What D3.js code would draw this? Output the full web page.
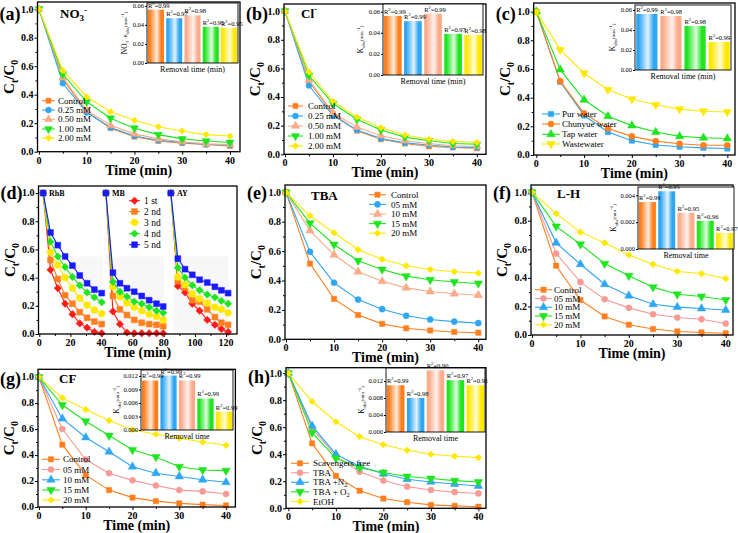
<!DOCTYPE html>
<html>
<head>
<meta charset="utf-8">
<script src="https://cdn.jsdelivr.net/npm/d3@7"></script>
<style>
  body { margin: 0; background: #fff; }
  svg { display: block; font-family: "Liberation Serif", "Times New Roman", serif; }
</style>
</head>
<body>
<svg id="fig" width="738" height="533"></svg>
<script>
// ---------- data ----------
const times = [0, 5, 10, 15, 20, 25, 30, 35, 40];
const yTicks = [0, 0.2, 0.4, 0.6, 0.8, 1.0];

// (a) NO3-
const aNames = ["Control", "0.25 mM", "0.50 mM", "1.00 mM", "2.00 mM"];
const aVals = [
  [1, 0.51, 0.28, 0.165, 0.105, 0.075, 0.06, 0.05, 0.04],
  [1, 0.48, 0.275, 0.17, 0.11, 0.08, 0.065, 0.05, 0.045],
  [1, 0.52, 0.29, 0.185, 0.125, 0.09, 0.07, 0.055, 0.05],
  [1, 0.545, 0.35, 0.235, 0.165, 0.12, 0.09, 0.075, 0.065],
  [1, 0.57, 0.385, 0.28, 0.22, 0.175, 0.145, 0.12, 0.11]
];
const aK = [0.056, 0.047, 0.050, 0.038, 0.037];
const aR2 = ["0.99", "0.97", "0.98", "0.95", "0.95"];

// (b) Cl-
const bNames = ["Control", "0.25 mM", "0.50 mM", "1.00 mM", "2.00 mM"];
const bVals = [
  [1, 0.51, 0.28, 0.165, 0.105, 0.075, 0.055, 0.048, 0.042],
  [1, 0.48, 0.27, 0.17, 0.11, 0.08, 0.065, 0.05, 0.048],
  [1, 0.52, 0.29, 0.19, 0.13, 0.095, 0.075, 0.06, 0.055],
  [1, 0.55, 0.355, 0.245, 0.17, 0.12, 0.095, 0.075, 0.07],
  [1, 0.575, 0.37, 0.26, 0.185, 0.135, 0.105, 0.09, 0.082]
];
const bK = [0.056, 0.051, 0.058, 0.039, 0.038];
const bR2 = ["0.99", "0.99", "0.99", "0.97", "0.98"];

// (c) water matrices
const cNames = ["Pur water", "Chunyue water", "Tap water", "Wastewater"];
const cVals = [
  [1, 0.51, 0.275, 0.16, 0.10, 0.07, 0.058, 0.05, 0.045],
  [1, 0.515, 0.29, 0.185, 0.13, 0.097, 0.078, 0.068, 0.068],
  [1, 0.595, 0.385, 0.27, 0.205, 0.16, 0.13, 0.12, 0.115],
  [1, 0.735, 0.57, 0.455, 0.39, 0.35, 0.32, 0.305, 0.30]
];
const cK = [0.056, 0.054, 0.044, 0.028];
const cR2 = ["0.99", "0.98", "0.98", "0.99"];

// (d) recycling runs
const dNames = ["1 st", "2 nd", "3 nd", "4 nd", "5 nd"];
const dRhBx = [2.5, 7.2, 11.9, 16.6, 21.3, 26, 30.7, 35.4, 40.1];
const dMBx = [42.8, 47.3, 51.8, 56.3, 61, 65.8, 70.6, 75.3, 79.6];
const dAYx = [84.5, 89, 93.6, 98.3, 103, 107.9, 112.8, 117, 121.3];
const dRhB = [
  [1, 0.455, 0.325, 0.215, 0.14, 0.075, 0.045, 0.015, 0.005],
  [1, 0.525, 0.39, 0.275, 0.215, 0.155, 0.115, 0.088, 0.07],
  [1, 0.58, 0.49, 0.40, 0.325, 0.255, 0.205, 0.17, 0.145],
  [1, 0.655, 0.55, 0.475, 0.405, 0.345, 0.295, 0.26, 0.225],
  [1, 0.72, 0.63, 0.55, 0.485, 0.415, 0.36, 0.315, 0.29]
];
const dMB = [
  [1, 0.16, 0.07, 0.01, 0.005, 0.005, 0.005, 0.005, 0.005],
  [1, 0.27, 0.175, 0.135, 0.10, 0.08, 0.07, 0.065, 0.055],
  [1, 0.335, 0.265, 0.22, 0.19, 0.165, 0.14, 0.125, 0.10],
  [1, 0.37, 0.30, 0.265, 0.23, 0.215, 0.19, 0.165, 0.15],
  [1, 0.435, 0.36, 0.325, 0.30, 0.27, 0.24, 0.215, 0.195]
];
const dAY = [
  [1, 0.34, 0.295, 0.215, 0.165, 0.10, 0.065, 0.035, 0.015],
  [1, 0.375, 0.33, 0.24, 0.23, 0.175, 0.12, 0.08, 0.065],
  [1, 0.405, 0.35, 0.285, 0.25, 0.22, 0.19, 0.175, 0.15],
  [1, 0.47, 0.40, 0.345, 0.31, 0.28, 0.26, 0.235, 0.215],
  [1, 0.535, 0.46, 0.42, 0.385, 0.365, 0.335, 0.31, 0.29]
];
const dDyes = ["RhB", "MB", "AY"];

// (e) TBA
const eNames = ["Control", "05 mM", "10 mM", "15 mM", "20 mM"];
const eVals = [
  [1, 0.515, 0.275, 0.165, 0.105, 0.075, 0.06, 0.05, 0.045],
  [1, 0.595, 0.385, 0.27, 0.205, 0.16, 0.135, 0.12, 0.11],
  [1, 0.74, 0.575, 0.46, 0.395, 0.35, 0.325, 0.31, 0.30],
  [1, 0.79, 0.645, 0.535, 0.475, 0.43, 0.405, 0.39, 0.38],
  [1, 0.84, 0.725, 0.61, 0.545, 0.50, 0.475, 0.46, 0.45]
];

// (f) L-H
const fNames = ["Control", "05 mM", "10 mM", "15 mM", "20 mM"];
const fVals = [
  [1, 0.485, 0.245, 0.13, 0.072, 0.042, 0.025, 0.018, 0.012],
  [1, 0.57, 0.37, 0.25, 0.19, 0.145, 0.122, 0.11, 0.08],
  [1, 0.645, 0.495, 0.355, 0.275, 0.215, 0.195, 0.185, 0.175],
  [1, 0.76, 0.635, 0.50, 0.415, 0.335, 0.285, 0.27, 0.245],
  [1, 0.85, 0.72, 0.645, 0.56, 0.495, 0.445, 0.43, 0.395]
];
const fK = [0.0035, 0.0043, 0.0027, 0.0021, 0.0012];
const fR2 = ["0.99", "0.95", "0.95", "0.96", "0.97"];

// (g) CF
const gNames = ["Control", "05 mM", "10 mM", "15 mM", "20 mM"];
const gVals = [
  [1, 0.48, 0.245, 0.13, 0.072, 0.045, 0.028, 0.018, 0.012],
  [1, 0.60, 0.365, 0.26, 0.205, 0.165, 0.13, 0.12, 0.10],
  [1, 0.68, 0.535, 0.425, 0.31, 0.26, 0.235, 0.21, 0.19],
  [1, 0.785, 0.66, 0.55, 0.44, 0.385, 0.31, 0.285, 0.28],
  [1, 0.84, 0.75, 0.665, 0.595, 0.56, 0.53, 0.50, 0.475]
];
const gK = [0.011, 0.0121, 0.011, 0.007, 0.0041];
const gR2 = ["0.99", "0.99", "0.99", "0.99", "0.99"];

// (h) scavengers
const hNames = ["Scavengers free", "TBA", "TBA +N2", "TBA + O2", "EtOH"];
const hVals = [
  [1, 0.48, 0.24, 0.13, 0.072, 0.045, 0.025, 0.018, 0.012],
  [1, 0.59, 0.385, 0.27, 0.205, 0.16, 0.135, 0.12, 0.11],
  [1, 0.61, 0.40, 0.31, 0.255, 0.215, 0.195, 0.18, 0.165],
  [1, 0.56, 0.37, 0.30, 0.265, 0.235, 0.22, 0.205, 0.195],
  [1, 0.79, 0.64, 0.53, 0.47, 0.43, 0.40, 0.385, 0.375]
];
const hK = [0.011, 0.008, 0.0145, 0.0122, 0.011];
const hR2 = ["0.99", "0.98", "0.90", "0.97", "0.91"];

// ---------- colours / symbols ----------
const ORANGE = "#ff7f1e", BLUE = "#2fa6f2", SALMON = "#f9ab8a", PINK = "#f59a96",
      GREEN = "#1fe41f", YELLOW = "#ffe800", RED = "#ff1a1a", DBLUE = "#1a1aff";

const svg = d3.select("#fig");
const defs = svg.append("defs");
const gradCache = {};
function barFill(col) {
  if (!gradCache[col]) {
    const id = "g" + col.slice(1);
    const lg = defs.append("linearGradient").attr("id", id).attr("x1", 0).attr("x2", 1).attr("y1", 0).attr("y2", 0);
    const light = d3.interpolateRgb(col, "#ffffff");
    [[0, col], [0.12, col], [0.35, light(0.45)], [0.55, light(0.85)], [0.82, col], [1, col]].forEach(s =>
      lg.append("stop").attr("offset", s[0]).attr("stop-color", s[1]));
    gradCache[col] = "url(#" + id + ")";
  }
  return gradCache[col];
}

function drawMark(g, shape, cx, cy, col, size) {
  let type = d3.symbolSquare, rot = 0, s = size;
  if (shape === "circle") { type = d3.symbolCircle; s = size * 1.05; }
  if (shape === "tri") { type = d3.symbolTriangle; s = size * 1.1; }
  if (shape === "down") { type = d3.symbolTriangle; rot = 180; s = size * 1.1; }
  if (shape === "diamond") { type = d3.symbolSquare; rot = 45; s = size * 0.8; }
  g.append("path")
    .attr("d", d3.symbol(type, s)())
    .attr("transform", `translate(${cx},${cy}) rotate(${rot})`)
    .attr("fill", col).attr("stroke", col).attr("stroke-width", 0.5);
}

const yTickLabels = [];

// ---------- panel drawing ----------
function panel(p) {
  const g = svg.append("g");
  const x = d3.scaleLinear().domain(p.xd).range([p.L, p.R]);
  const y = d3.scaleLinear().domain(p.yd).range([p.B, p.T]);

  if (p.shade) {
    p.shade.forEach(r => g.append("rect")
      .attr("x", x(r[0])).attr("y", y(r[3]))
      .attr("width", x(r[1]) - x(r[0])).attr("height", y(r[2]) - y(r[3]))
      .attr("fill", "#f7f7f7"));
  }

  // tick marks through d3 axes
  g.append("g").attr("transform", `translate(0,${p.B})`)
    .call(d3.axisBottom(x).tickValues(p.xt).tickSize(3).tickFormat(""));
  g.append("g").attr("transform", `translate(0,${p.B})`)
    .call(d3.axisBottom(x).tickValues(p.xm).tickSize(2).tickFormat(""));
  g.append("g").attr("transform", `translate(${p.L},0)`)
    .call(d3.axisLeft(y).tickValues(yTicks).tickSize(3).tickFormat(""));
  g.append("g").attr("transform", `translate(${p.L},0)`)
    .call(d3.axisLeft(y).tickValues([0.1, 0.3, 0.5, 0.7, 0.9]).tickSize(2).tickFormat(""));
  g.selectAll(".domain").remove();
  g.selectAll(".tick line").attr("stroke", "#000").attr("stroke-width", 1);

  // x tick labels
  p.xt.forEach(v => g.append("text").attr("x", x(v)).attr("y", p.B + 12)
    .attr("text-anchor", "middle").attr("font-size", 10).attr("font-weight", "bold").text(v));
  // y tick labels go on a top layer at the end
  yTicks.forEach(v => yTickLabels.push({ x: p.L - 4, y: y(v), t: d3.format(".1f")(v) }));

  // series
  p.series.forEach(s => {
    s.segs.forEach(seg => {
      const pts = seg.xs.map((t, k) => [t, seg.ys[k]]);
      g.append("path").datum(pts)
        .attr("d", d3.line().x(d => x(d[0])).y(d => y(d[1])))
        .attr("fill", "none").attr("stroke", s.color).attr("stroke-width", 1.1);
      pts.forEach(d => drawMark(g, s.shape, x(d[0]), y(d[1]), s.color, p.msize));
    });
  });

  // frame
  g.append("rect").attr("x", p.L).attr("y", p.T).attr("width", p.R - p.L).attr("height", p.B - p.T)
    .attr("fill", "none").attr("stroke", "#000").attr("stroke-width", 1.3);

  // axis titles
  g.append("text").attr("x", (p.L + p.R) / 2).attr("y", p.B + 23)
    .attr("text-anchor", "middle").attr("font-weight", "bold").attr("font-size", 14).text("Time (min)");
  const yl = g.append("text").attr("transform", `translate(${p.L - 24},${(p.T + p.B) / 2}) rotate(-90)`)
    .attr("text-anchor", "middle").attr("font-weight", "bold").attr("font-size", 15);
  yl.append("tspan").text("C");
  yl.append("tspan").attr("font-size", 10).attr("dy", 4).text("t");
  yl.append("tspan").attr("dy", -4).text("/C");
  yl.append("tspan").attr("font-size", 10).attr("dy", 4).text("0");

  // panel letter
  g.append("text").attr("x", p.L - 38).attr("y", p.letterY)
    .attr("font-weight", "bold").attr("font-size", 18).text(`(${p.id})`);

  // title
  if (p.title) {
    const t = g.append("text").attr("x", p.title.x).attr("y", p.title.y)
      .attr("font-weight", "bold").attr("font-size", 13);
    p.title.parts.forEach(pt => {
      const ts = t.append("tspan").text(pt[0]);
      if (pt[1]) ts.attr("font-size", 9).attr("dy", pt[1]);
    });
  }

  // legend
  const lg = p.legend;
  p.series.forEach((s, i) => {
    const ly = lg.ys[i];
    g.append("line").attr("x1", lg.x1).attr("x2", lg.x2).attr("y1", ly).attr("y2", ly)
      .attr("stroke", s.color).attr("stroke-width", 1.1);
    drawMark(g, s.shape, (lg.x1 + lg.x2) / 2, ly, s.color, p.msize);
    const tx = g.append("text").attr("x", lg.tx).attr("y", ly).attr("dy", "0.35em")
      .attr("font-size", lg.fs || 9);
    s.label.forEach(part => {
      const ts = tx.append("tspan").text(part[0]);
      if (part[1]) ts.attr("font-size", 6.5).attr("dy", part[1]);
    });
  });

  if (p.inset) inset(g, p.inset);
  if (p.notes) p.notes.forEach(n => g.append("text").attr("x", n.x).attr("y", n.y)
    .attr("font-weight", "bold").attr("font-size", 8).text(n.t));
}

function inset(g, q) {
  const x = d3.scaleBand().domain(q.vals.map((v, i) => i)).range([q.L, q.R]).paddingInner(0.12).paddingOuter(0.05);
  const y = d3.scaleLinear().domain(q.yd).range([q.B, q.T]);
  g.append("rect").attr("x", q.L).attr("y", q.T).attr("width", q.R - q.L).attr("height", q.B - q.T)
    .attr("fill", "#fff");
  g.selectAll(null).data(q.vals).enter().append("rect")
    .attr("x", (d, i) => x(i)).attr("width", x.bandwidth())
    .attr("y", d => y(d)).attr("height", d => q.B - y(d))
    .attr("fill", (d, i) => barFill(q.colors[i]));
  const ax = g.append("g").attr("transform", `translate(${q.L},0)`)
    .call(d3.axisLeft(y).tickValues(q.yt).tickSize(2).tickFormat(""));
  ax.select(".domain").remove();
  ax.selectAll(".tick line").attr("stroke", "#000");
  q.yt.forEach(v => g.append("text").attr("x", q.L - 3).attr("y", y(v)).attr("dy", "0.34em")
    .attr("text-anchor", "end").attr("font-size", 6.5).text(d3.format(q.fmt)(v)));
  g.append("rect").attr("x", q.L).attr("y", q.T).attr("width", q.R - q.L).attr("height", q.B - q.T)
    .attr("fill", "none").attr("stroke", "#000").attr("stroke-width", 0.9);
  // R2 labels
  q.vals.forEach((v, i) => {
    const t = g.append("text").attr("x", x(i)).attr("y", y(v) - 2).attr("font-size", 6.5);
    t.append("tspan").text("R");
    t.append("tspan").attr("font-size", 4.5).attr("dy", -3).text("2");
    t.append("tspan").attr("dy", 3).text("=" + q.r2[i]);
  });
  g.append("text").attr("x", (q.L + q.R) / 2).attr("y", q.B + 9).attr("text-anchor", "middle")
    .attr("font-size", 8).text(q.xlabel);
  const yl = g.append("text").attr("transform", `translate(${q.L - q.ylx},${(q.T + q.B) / 2}) rotate(-90)`)
    .attr("text-anchor", "middle").attr("font-size", 7.5);
  q.ylabel.forEach(part => {
    const ts = yl.append("tspan").text(part[0]);
    if (part[1]) ts.attr("font-size", 5).attr("dy", part[1]);
  });
}

function mk(names, vals, colors, shapes) {
  return names.map((n, i) => ({
    label: [[n]], color: colors[i], shape: shapes[i],
    segs: [{ xs: times, ys: vals[i] }]
  }));
}

const concShapes = ["square", "circle", "tri", "down", "diamond"];
const kyLabel = [["K"], ["obs", 2], ["(min", -2], ["-1", -3], [")", 3]];

// (a)
panel({
  id: "a", L: 37.5, R: 240, T: 2, B: 151.7, xd: [-0.3, 42.1], yd: [0, 1.05],
  xt: [0, 10, 20, 30, 40], xm: [5, 15, 25, 35], msize: 26, letterY: 20,
  series: mk(aNames, aVals, [ORANGE, BLUE, SALMON, GREEN, YELLOW], concShapes),
  title: { x: 60, y: 18, parts: [["NO"], ["3", 3], ["-", -8]] },
  legend: { x1: 42, x2: 55, tx: 58, ys: [100.7, 110, 119.3, 129, 138] },
  inset: {
    L: 147, R: 238, T: 3, B: 63, yd: [0, 0.063], yt: [0, 0.02, 0.04, 0.06], fmt: ".2f",
    vals: aK, r2: aR2, colors: [ORANGE, BLUE, SALMON, GREEN, YELLOW], xlabel: "Removal time (min)", ylx: 20,
    ylabel: [["NO"], ["3", 2], ["-", -5], ["-K", 3], ["obs", 2], ["(min", -2], ["-1", -3], [")", 3]]
  }
});

// (b)
panel({
  id: "b", L: 284, R: 486, T: 4, B: 154.3, xd: [-0.2, 41.9], yd: [0, 1.05],
  xt: [0, 10, 20, 30, 40], xm: [5, 15, 25, 35], msize: 26, letterY: 20,
  series: mk(bNames, bVals, [ORANGE, BLUE, SALMON, GREEN, YELLOW], concShapes),
  title: { x: 301, y: 18, parts: [["Cl"], ["-", -6]] },
  legend: { x1: 288, x2: 303, tx: 308, ys: [106, 116, 126, 136, 146] },
  inset: {
    L: 383, R: 483, T: 4, B: 75, yd: [0, 0.0673], yt: [0, 0.02, 0.04, 0.06], fmt: ".2f",
    vals: bK, r2: bR2, colors: [ORANGE, BLUE, SALMON, GREEN, YELLOW], xlabel: "Removal time (min)", ylx: 20,
    ylabel: kyLabel
  }
});

// (c)
panel({
  id: "c", L: 533.7, R: 735, T: 3, B: 155, xd: [-0.55, 41.6], yd: [0, 1.06],
  xt: [0, 10, 20, 30, 40], xm: [5, 15, 25, 35], msize: 28, letterY: 20,
  series: mk(cNames, cVals, [BLUE, ORANGE, GREEN, YELLOW], ["square", "circle", "tri", "down"]),
  legend: { x1: 542, x2: 560, tx: 562, ys: [114, 124, 134.3, 144] },
  inset: {
    L: 635, R: 731, T: 5, B: 70, yd: [0, 0.065], yt: [0, 0.02, 0.04, 0.06], fmt: ".2f",
    vals: cK, r2: cR2, colors: [BLUE, SALMON, GREEN, YELLOW], xlabel: "Removal time (min)", ylx: 20,
    ylabel: kyLabel
  }
});

// (d)
const dColors = [RED, ORANGE, YELLOW, GREEN, DBLUE];
const dShapes = ["diamond", "square", "circle", "diamond", "square"];
panel({
  id: "d", L: 38.5, R: 237, T: 186, B: 334, xd: [-0.5, 127], yd: [0, 1.05],
  xt: [0, 20, 40, 60, 80, 100, 120], xm: [10, 30, 50, 70, 90, 110], msize: 34, letterY: 199,
  shade: [[20, 41, 0, 0.55], [45, 80, 0, 0.55], [86, 121.5, 0, 0.55]],
  series: dNames.map((n, i) => ({
    label: [[n]], color: dColors[i], shape: dShapes[i],
    segs: [{ xs: dRhBx, ys: dRhB[i] }, { xs: dMBx, ys: dMB[i] }, { xs: dAYx, ys: dAY[i] }]
  })),
  legend: { x1: 129, x2: 140, tx: 144, ys: [200.7, 211.5, 222.4, 233.6, 244.7], fs: 9.5 },
  notes: [{ x: 49, y: 196, t: dDyes[0] }, { x: 112, y: 196, t: dDyes[1] }, { x: 177, y: 196, t: dDyes[2] }]
});

// (e)
panel({
  id: "e", L: 285, R: 486, T: 185, B: 339.3, xd: [-0.2, 41.6], yd: [0, 1.05],
  xt: [0, 10, 20, 30, 40], xm: [5, 15, 25, 35], msize: 28, letterY: 199,
  series: mk(eNames, eVals, [ORANGE, BLUE, SALMON, GREEN, YELLOW], concShapes),
  title: { x: 311, y: 200, parts: [["TBA"]] },
  legend: { x1: 369, x2: 386, tx: 391, ys: [194.7, 204.4, 214, 223.6, 233.2] }
});

// (f)
panel({
  id: "f", L: 531, R: 733, T: 185, B: 335, xd: [-0.2, 41.5], yd: [0, 1.05],
  xt: [0, 10, 20, 30, 40], xm: [5, 15, 25, 35], msize: 28, letterY: 199,
  series: mk(fNames, fVals, [ORANGE, PINK, BLUE, GREEN, YELLOW], concShapes),
  title: { x: 557, y: 198, parts: [["L-H"]] },
  legend: { x1: 535, x2: 552, tx: 554, ys: [289.7, 298.5, 307.3, 316, 324.7] },
  inset: {
    L: 638, R: 734, T: 187, B: 249, yd: [0, 0.00462], yt: [0, 0.002, 0.004], fmt: ".3f",
    vals: fK, r2: fR2, colors: [ORANGE, BLUE, SALMON, GREEN, YELLOW], xlabel: "Removal time", ylx: 22,
    ylabel: kyLabel
  }
});

// (g)
panel({
  id: "g", L: 38, R: 235.4, T: 369.3, B: 507, xd: [-0.2, 42], yd: [0, 1.06],
  xt: [0, 10, 20, 30, 40], xm: [5, 15, 25, 35], msize: 28, letterY: 385,
  series: mk(gNames, gVals, [ORANGE, PINK, BLUE, GREEN, YELLOW], concShapes),
  title: { x: 59, y: 383, parts: [["CF"]] },
  legend: { x1: 42, x2: 60, tx: 63, ys: [459.3, 469.5, 479.8, 490, 500] },
  inset: {
    L: 141, R: 233, T: 370, B: 430, yd: [0, 0.01333], yt: [0, 0.003, 0.006, 0.009, 0.012], fmt: ".3f",
    vals: gK, r2: gR2, colors: [ORANGE, BLUE, SALMON, GREEN, YELLOW], xlabel: "Removal time", ylx: 22,
    ylabel: kyLabel
  }
});

// (h)
const hSeries = mk(hNames, hVals, [ORANGE, PINK, BLUE, GREEN, YELLOW], concShapes);
hSeries[2].label = [["TBA +N"], ["2", 2]];
hSeries[3].label = [["TBA + O"], ["2", 2]];
panel({
  id: "h", L: 286, R: 486, T: 367.7, B: 508.3, xd: [-0.5, 41.6], yd: [0, 1.04],
  xt: [0, 10, 20, 30, 40], xm: [5, 15, 25, 35], msize: 28, letterY: 383,
  series: hSeries,
  legend: { x1: 291, x2: 309, tx: 313, ys: [463.3, 472.8, 482.3, 491.8, 501.5] },
  inset: {
    L: 386, R: 485, T: 368, B: 432, yd: [0, 0.01506], yt: [0, 0.004, 0.008, 0.012], fmt: ".3f",
    vals: hK, r2: hR2, colors: [ORANGE, BLUE, SALMON, GREEN, YELLOW], xlabel: "Removal time", ylx: 22,
    ylabel: kyLabel
  }
});

// main y tick labels, drawn last
const tickLayer = svg.append("g").attr("font-size", 10).attr("font-weight", "bold").attr("fill", "#000");
yTickLabels.forEach(l => tickLayer.append("text").attr("x", l.x).attr("y", l.y).attr("dy", "0.34em")
  .attr("text-anchor", "end").text(l.t));
</script>
</body>
</html>
